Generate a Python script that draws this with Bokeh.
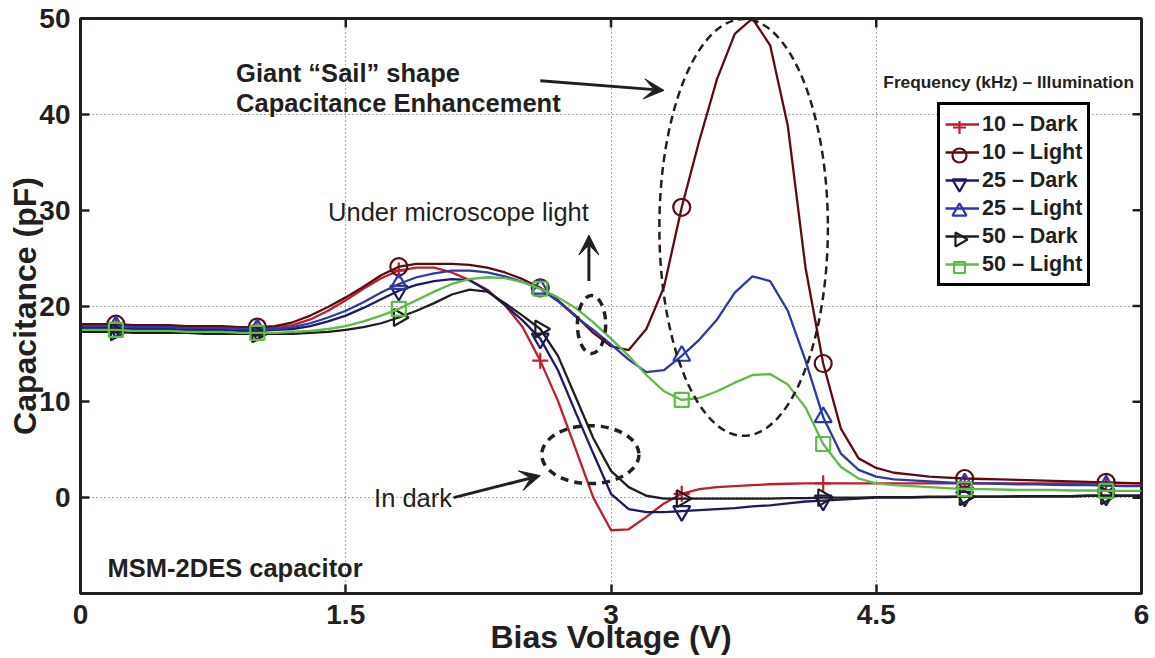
import math
from bokeh.plotting import figure
from bokeh.models import (FixedTicker, Legend, LegendItem, Label,
                          Arrow, VeeHead)
from bokeh.embed import file_html
from bokeh.resources import INLINE

# ---- data -------------------------------------------------------------
bias = [0.0, 0.1, 0.2, 0.3, 0.4, 0.5, 0.6, 0.7, 0.8, 0.9,
        1.0, 1.1, 1.2, 1.3, 1.4, 1.5, 1.6, 1.7, 1.8, 1.9,
        2.0, 2.1, 2.2, 2.3, 2.4, 2.5, 2.6, 2.7, 2.8, 2.9,
        3.0, 3.1, 3.2, 3.3, 3.4, 3.5, 3.6, 3.7, 3.8, 3.9,
        4.0, 4.1, 4.2, 4.3, 4.4, 4.5, 4.6, 4.7, 4.8, 4.9,
        5.0, 5.1, 5.2, 5.3, 5.4, 5.5, 5.6, 5.7, 5.8, 5.9, 6.0]

c10_dark = [18.0, 18.0, 18.0, 17.9, 17.9, 17.9, 17.8, 17.8, 17.8, 17.7,
            17.7, 17.8, 18.0, 18.6, 19.5, 20.6, 21.8, 22.9, 23.7, 24.0,
            24.0, 23.5, 22.7, 21.7, 20.1, 17.8, 14.3, 10.1, 5.1, 0.0,
            -3.4, -3.3, -2.0, -0.6, 0.4, 0.9, 1.1, 1.2, 1.3, 1.4,
            1.45, 1.5, 1.5, 1.5, 1.5, 1.5, 1.5, 1.5, 1.5, 1.5,
            1.5, 1.5, 1.5, 1.5, 1.5, 1.5, 1.5, 1.5, 1.5, 1.5, 1.5]

c10_light = [18.1, 18.1, 18.1, 18.0, 18.0, 18.0, 17.9, 17.9, 17.9, 17.8,
             17.8, 17.9, 18.3, 19.0, 19.9, 20.9, 22.0, 23.2, 24.1, 24.4,
             24.4, 24.4, 24.3, 24.0, 23.5, 22.8, 21.9, 20.6, 19.0, 17.2,
             15.8, 15.4, 17.6, 22.0, 30.3, 37.3, 43.7, 48.4, 50.0, 47.2,
             38.8, 24.0, 14.0, 7.2, 4.1, 3.1, 2.6, 2.4, 2.2, 2.1,
             2.0, 1.95, 1.9, 1.85, 1.8, 1.75, 1.7, 1.65, 1.6, 1.55, 1.5]

c25_dark = [17.7, 17.7, 17.7, 17.6, 17.6, 17.6, 17.5, 17.5, 17.5, 17.4,
            17.4, 17.5, 17.6, 17.9, 18.4, 19.0, 19.8, 20.7, 21.6, 22.2,
            22.6, 22.8, 22.7, 21.6, 20.1, 18.5, 16.6, 13.3, 8.9, 4.6,
            0.4, -1.2, -1.5, -1.5, -1.4, -1.3, -1.2, -1.1, -0.9, -0.8,
            -0.6, -0.4, -0.3, -0.2, -0.1, 0.0, 0.0, 0.0, 0.05, 0.05,
            0.1, 0.1, 0.1, 0.1, 0.15, 0.15, 0.15, 0.2, 0.2, 0.2, 0.2]

c25_light = [17.9, 17.9, 17.9, 17.8, 17.8, 17.8, 17.7, 17.7, 17.7, 17.6,
             17.6, 17.6, 17.8, 18.2, 18.8, 19.5, 20.4, 21.4, 22.3, 23.0,
             23.4, 23.7, 23.7, 23.5, 23.1, 22.5, 21.8, 20.5, 18.9, 17.5,
             16.0, 14.4, 13.1, 13.3, 14.8, 16.5, 18.6, 21.4, 23.1, 22.6,
             19.5, 14.3, 8.4, 4.6, 2.9, 2.2, 1.9, 1.8, 1.7, 1.6,
             1.5, 1.5, 1.45, 1.4, 1.4, 1.35, 1.3, 1.3, 1.25, 1.2, 1.2]

c50_dark = [17.3, 17.3, 17.3, 17.2, 17.2, 17.2, 17.2, 17.1, 17.1, 17.1,
            17.1, 17.1, 17.1, 17.2, 17.3, 17.5, 17.8, 18.2, 18.8, 19.5,
            20.3, 21.2, 21.7, 21.5, 20.3, 19.0, 17.6, 14.8, 10.5, 6.2,
            2.8, 1.1, 0.2, -0.1, -0.1, -0.1, -0.1, -0.1, -0.1, -0.1,
            -0.05, -0.05, 0.0, 0.0, 0.0, 0.05, 0.05, 0.05, 0.1, 0.1,
            0.1, 0.1, 0.1, 0.15, 0.15, 0.15, 0.15, 0.2, 0.2, 0.2, 0.2]

c50_light = [17.5, 17.5, 17.5, 17.4, 17.4, 17.4, 17.3, 17.3, 17.3, 17.2,
             17.2, 17.2, 17.3, 17.4, 17.6, 17.9, 18.4, 19.0, 19.7, 20.6,
             21.5, 22.3, 22.8, 23.0, 22.9, 22.5, 21.8, 20.9, 19.8, 18.3,
             16.6, 14.8, 12.8, 11.1, 10.2, 10.4, 11.1, 12.0, 12.8, 12.9,
             11.8, 9.4, 5.6, 3.2, 2.0, 1.5, 1.3, 1.2, 1.1, 1.0,
             0.9, 0.9, 0.85, 0.8, 0.8, 0.8, 0.75, 0.75, 0.7, 0.7, 0.7]

series_labels = ["10 \u2013 Dark", "10 \u2013 Light", "25 \u2013 Dark",
                 "25 \u2013 Light", "50 \u2013 Dark", "50 \u2013 Light"]

x_ticks = [0, 1.5, 3, 4.5, 6]
x_tick_labels = ["0", "1.5", "3", "4.5", "6"]
y_ticks = [0, 10, 20, 30, 40, 50]

# ---- figure -----------------------------------------------------------
INK = "#231f20"
W, H = 1155, 658
BL, BR, BT, BB = 80, 14, 18, 65          # borders around the frame
X0, X1, Y0, Y1 = 0, 6, -10, 50

p = figure(width=W, height=H, x_range=(X0, X1), y_range=(Y0, Y1),
           output_backend="svg", toolbar_location=None,
           min_border_left=BL, min_border_right=BR,
           min_border_top=BT, min_border_bottom=BB)
p.background_fill_color = "white"
p.border_fill_color = "white"
p.outline_line_color = INK
p.outline_line_width = 3


def px_to_data(sx, sy):
    """Page pixel -> data coordinates inside the frame."""
    fw, fh = W - BL - BR, H - BT - BB
    return (X0 + (sx - BL) * (X1 - X0) / fw,
            Y1 - (sy - BT) * (Y1 - Y0) / fh)


xa = p.below[0]
ya = p.left[0]
xa.ticker = FixedTicker(ticks=x_ticks)
ya.ticker = FixedTicker(ticks=y_ticks)

for ax in (xa, ya):
    ax.axis_line_width = 3
    ax.axis_line_color = INK
    ax.major_tick_in = 9
    ax.major_tick_out = 0
    ax.major_tick_line_width = 2.5
    ax.major_tick_line_color = INK
    ax.minor_tick_in = 0
    ax.minor_tick_out = 0
    ax.major_label_text_color = INK
    ax.axis_label_text_color = INK

xa.major_label_overrides = dict(zip(x_ticks, x_tick_labels))
xa.major_label_text_font = "Liberation Sans"
xa.major_label_text_font_style = "bold"
xa.major_label_text_font_size = "28px"
xa.major_label_standoff = 11
xa.axis_label = "Bias Voltage (V)"
xa.axis_label_text_font = "Liberation Sans"
xa.axis_label_text_font_style = "bold"
xa.axis_label_text_font_size = "32px"
xa.axis_label_standoff = -8

ya.major_label_text_font = "Liberation Sans"
ya.major_label_text_font_style = "bold"
ya.major_label_text_font_size = "28px"
ya.major_label_standoff = 10
ya.axis_label = "Capacitance (pF)"
ya.axis_label_text_font = "Liberation Sans"
ya.axis_label_text_font_style = "bold"
ya.axis_label_text_font_size = "32px"
ya.axis_label_standoff = -7

# inward ticks on the top and right edges of the box
p.ray(x=x_ticks, y=[Y1] * len(x_ticks), length=9, length_units="screen",
      angle=-math.pi / 2, line_color=INK, line_width=2.5)
p.ray(x=[X1] * len(y_ticks), y=y_ticks, length=9, length_units="screen",
      angle=math.pi, line_color=INK, line_width=2.5)

p.xgrid.ticker = FixedTicker(ticks=[1.5, 3, 4.5])
p.ygrid.ticker = FixedTicker(ticks=[0, 20, 40])
for g in (p.xgrid, p.ygrid):
    g.grid_line_color = "#555555"
    g.grid_line_width = 1
    g.grid_line_dash = "1 3"

# ---- legend box geometry (page pixels) --------------------------------
LEG_LEFT, LEG_RIGHT, LEG_BOTTOM = 937, 1089, 286
LEG_PAD, ROW_H, GLYPH_W = 5, 28, 34
n_rows = len(series_labels)
leg_top = LEG_BOTTOM - (2 * LEG_PAD + n_rows * ROW_H)

# white panel behind the legend (covers the grid; keys are drawn on it)
bx0, by0 = px_to_data(LEG_LEFT, LEG_BOTTOM)
bx1, by1 = px_to_data(LEG_RIGHT, leg_top)
p.quad(left=[bx0], right=[bx1], bottom=[by0], top=[by1],
       fill_color="white", line_color=None)

key_x, _ = px_to_data(LEG_LEFT + LEG_PAD + GLYPH_W / 2, 0)

# ---- curves -----------------------------------------------------------
styles = [
    (c10_dark, "#bf1e2d", "cross", 0.0, 16),
    (c10_light, "#5e0b10", "circle", 0.0, 17),
    (c25_dark, "#1b1a66", "inverted_triangle", 0.0, 17),
    (c25_light, "#2b3aa6", "triangle", 0.0, 17),
    (c50_dark, "#1e1e1e", "triangle", -math.pi / 2, 17),
    (c50_light, "#5dbb46", "square", 0.0, 14),
]

items = []
for i, ((vals, color, marker, ang, size), lab) in enumerate(zip(styles, series_labels)):
    ln = p.line(bias, vals, line_color=color, line_width=2.3)
    p.scatter(bias[2::8], vals[2::8], marker=marker, angle=ang,
              size=size, line_color=color, line_width=2.2, fill_color=None)
    items.append(LegendItem(label=lab, renderers=[ln]))
    # legend key marker for this series
    _, key_y = px_to_data(0, leg_top + LEG_PAD + ROW_H / 2 + i * ROW_H)
    p.scatter([key_x], [key_y], marker=marker, angle=ang,
              size=size - 3, line_color=color, line_width=2.2,
              fill_color=None)

legend = Legend(items=items, location=(LEG_LEFT - BL, (H - BB) - LEG_BOTTOM))
legend.border_line_color = "black"
legend.border_line_alpha = 1
legend.border_line_width = 3
legend.background_fill_alpha = 0
legend.label_text_font = "Liberation Sans"
legend.label_text_font_style = "bold"
legend.label_text_font_size = "21.5px"
legend.label_text_color = INK
legend.glyph_width = GLYPH_W
legend.glyph_height = ROW_H
legend.label_height = ROW_H
legend.label_standoff = 3
legend.spacing = 0
legend.padding = LEG_PAD
legend.margin = 0
p.add_layout(legend)

# ---- annotations ------------------------------------------------------
def add_label(x, y, text, size, bold=False):
    p.add_layout(Label(x=x, y=y, text=text, text_font="Liberation Sans",
                       text_font_style="bold" if bold else "normal",
                       text_font_size=size, text_color=INK,
                       text_align="left", text_baseline="alphabetic"))

add_label(4.54, 43.35, "Frequency (kHz) \u2013 Illumination", "17.3px", bold=True)
add_label(0.88, 44.3, "Giant \u201cSail\u201d shape", "25.5px", bold=True)
add_label(0.88, 41.2, "Capacitance Enhancement", "25.5px", bold=True)
add_label(1.40, 29.8, "Under microscope light", "25.5px")
add_label(1.66, 0.0, "In dark", "25.5px")
add_label(0.153, -7.3, "MSM-2DES capacitor", "25.5px", bold=True)

# dashed outlines around the regions of interest
p.ellipse(x=[3.75], y=[28.2], width=[0.953], height=[43.5],
          fill_color=None, line_color=INK, line_width=2.5, line_dash="8 5")
p.ellipse(x=[2.89], y=[18.06], width=[0.16], height=[6.05],
          fill_color=None, line_color=INK, line_width=3.5, line_dash="8 6")
p.ellipse(x=[2.883], y=[4.49], width=[0.55], height=[6.05],
          fill_color=None, line_color=INK, line_width=3.5, line_dash="8 6")


def add_arrow(x0, y0, x1, y1):
    head = VeeHead(size=20, fill_color=INK, line_color=INK, line_width=1)
    p.add_layout(Arrow(end=head, x_start=x0, y_start=y0, x_end=x1, y_end=y1,
                       line_color=INK, line_width=3))


add_arrow(2.60, 43.5, 3.30, 42.5)
add_arrow(2.875, 22.6, 2.875, 27.4)
add_arrow(2.11, 0.0, 2.60, 2.3)

open("out.html", "w").write(file_html(p, INLINE))
